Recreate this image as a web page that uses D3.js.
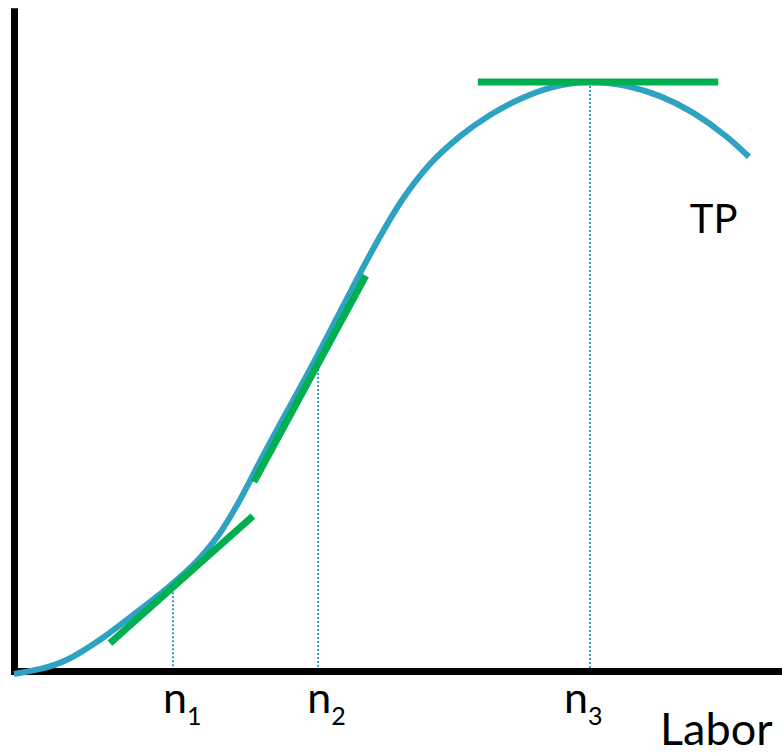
<!DOCTYPE html>
<html>
<head>
<meta charset="utf-8">
<script src="https://cdn.jsdelivr.net/npm/d3@7"></script>
<style>
  html, body { margin: 0; padding: 0; background: #fff; }
  svg { display: block; }
  text { font-family: Lato, "Open Sans", sans-serif; fill: #000; }
</style>
</head>
<body>
<div id="chart"></div>
<script>
// labor (x) and total product (y)
const labor = [0, 6.9, 11.2, 15.5, 20.7, 24.2, 26.8, 29.4, 32.0, 39.6, 43.1, 46.4, 50.3, 54.2,
  58.1, 62.0, 65.9, 69.8, 75.0, 79.8, 84.1, 88.4, 92.8, 95.7];
const totalProduct = [-0.5, 1.9, 5.3, 9.5, 14.9, 19.2, 23.4, 29.0, 35.5, 53.8, 62.6, 70.8, 79.5, 86.1,
  90.8, 94.4, 97.1, 99.0, 100, 99.3, 97.6, 94.8, 90.7, 87.3];

// the three labor levels and their TP
const levels = [20.7, 39.6, 75.0];
const levelTP = [15.4, 53.3, 100];
const levelLabels = ['1', '2', '3'];

// tangent segments [x0, y0, x1, y1]
const tangents = [
  [12.5, 4.75, 31.1, 26.3],
  [31.25, 32.1, 45.8, 67.1],
  [60.4, 100, 91.7, 100]
];

const width = 782;
const height = 753;
const blue = '#2da3c1';
const green = '#00b050';

const svg = d3.select('#chart').append('svg')
  .attr('width', width)
  .attr('height', height);

const xScale = d3.scaleLinear().domain([0, 100]).range([14, 782]);
const yScale = d3.scaleLinear().domain([0, 112]).range([671, 11.3]);

// axes, no ticks
const xaxis = d3.axisBottom(xScale).ticks(0).tickSizeOuter(0);
const yaxis = d3.axisLeft(yScale).ticks(0).tickSizeOuter(0);

svg.append('g')
  .attr('transform', 'translate(0,' + yScale(0) + ')')
  .call(xaxis)
  .select('.domain')
  .attr('stroke', '#000').attr('stroke-width', 7).attr('stroke-linecap', 'square');

svg.append('g')
  .attr('transform', 'translate(' + xScale(0) + ',0)')
  .call(yaxis)
  .select('.domain')
  .attr('stroke', '#000').attr('stroke-width', 7).attr('stroke-linecap', 'square');

// dotted drop lines
svg.selectAll('.drop')
  .data(levels)
  .enter().append('line')
  .attr('class', 'drop')
  .attr('x1', d => xScale(d)).attr('x2', d => xScale(d))
  .attr('y1', (d, i) => yScale(levelTP[i])).attr('y2', yScale(0) - 3)
  .attr('stroke', blue)
  .attr('stroke-width', 2)
  .attr('stroke-dasharray', '2,2');

// TP curve
const points = labor.map((d, i) => [d, totalProduct[i]]);
svg.append('path')
  .datum(points)
  .attr('fill', 'none')
  .attr('stroke', blue)
  .attr('stroke-width', 6)
  .attr('d', d3.line()
    .x(d => xScale(d[0]))
    .y(d => yScale(d[1]))
    .curve(d3.curveMonotoneX));

// tangents
svg.selectAll('.tangent')
  .data(tangents)
  .enter().append('line')
  .attr('class', 'tangent')
  .attr('x1', d => xScale(d[0])).attr('y1', d => yScale(d[1]))
  .attr('x2', d => xScale(d[2])).attr('y2', d => yScale(d[3]))
  .attr('stroke', green)
  .attr('stroke-width', 7);

// n labels
const nudge = [-10, -11, -26];
const lab = svg.selectAll('.nlab')
  .data(levelLabels)
  .enter().append('text')
  .attr('class', 'nlab')
  .attr('x', (d, i) => xScale(levels[i]) + nudge[i])
  .attr('y', 713)
  .style('font-size', '43px');
lab.append('tspan').text('n');
lab.append('tspan').attr('dy', 12).style('font-size', '25px').text(d => d);

// curve name and axis title
svg.append('text')
  .attr('x', xScale(88))
  .attr('y', yScale(74.4))
  .style('font-size', '40px')
  .text('TP');

svg.append('text')
  .attr('x', 660)
  .attr('y', 745)
  .style('font-size', '45px')
  .text('Labor');
</script>
</body>
</html>
